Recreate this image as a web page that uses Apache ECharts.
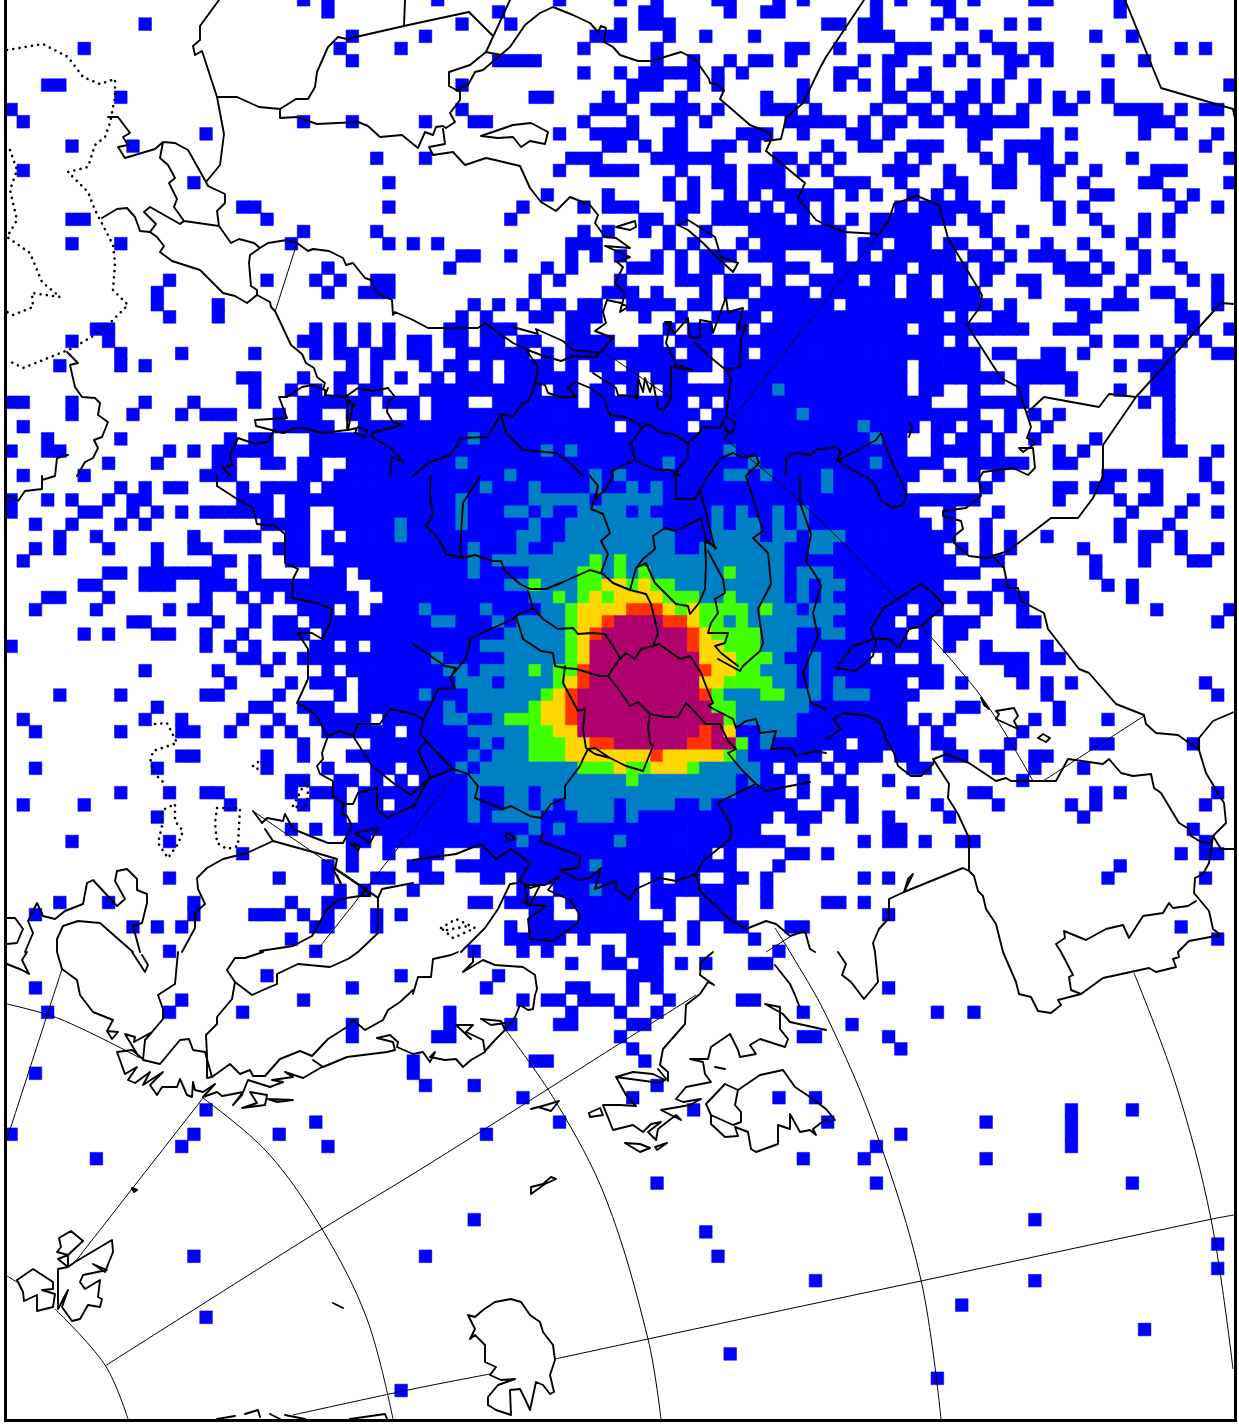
<!DOCTYPE html>
<html><head><meta charset="utf-8">
<style>html,body{margin:0;padding:0;background:#fff}#c{width:1239px;height:1427px}</style>
<script src="https://cdn.jsdelivr.net/npm/echarts@6/dist/echarts.min.js"></script>
</head><body><div id="c"></div>
<script>
// Occupied cells per row (first row is the one clipped by the top of the picture), as column runs.
const level1 = [
"24 26 35 45 50 53 58-59 63 65 71 73 76-77 79 84-85 91",
"26 40 52-53 59 62-63 71 77 91",
"11 37 41 50 52-54 67-68 70-71 76 78 82 84",
"28 34 48-50 54 57 61 70-72 80 89 92",
"6 27 32 47 53 64-65 68 73-75 78 81-82 84-85 96 98",
"28 40-43 53 56 59 61-62 64 70 72-73 77 79 82-83 85 90 93",
"47 50 52-56 58 60 68-69 72 75 82",
"3-4 37 51-53 56 58 65 68 70 72 74-75 79 81 84 90 100",
"9 43-44 49 51 55 62 65 72-73 76 78-79 81 84 86 88 90",
"0 37 48-50 53-56 58 62-64 66 71 74-75 77-78 80 83 86-87 91-94 96 98-99",
"1 24 28 34 38-39 47 51 55 57 64-68 70 72-73 75-76 78-83 93-95",
"16 45 48-51 54-55 60-62 65 69-70 72 79-80 85 87 93 96 99",
"5 10 49-50 52 54-55 58-59 61 67 70-71 74-76 79 82-85 98",
"30 34 46-48 53-58 63-64 66 68 73 75 80 82 84-85 87 92 100",
"1 45 48-51 55 58-59 61-63 65 67 72-74 77 81-82 85-86 89 94-96",
"15 31 54 56 58-59 61-63 68-70 73 77-78 81-82 85 88 93-94 100",
"44 49 54 56 59 61 63-67 69 71 74 76 78 85 89-90 95 97",
"19-20 31 42 47 49-51 55-56 58-60 62 64-65 67 73 75-79 81 86 88 96 99",
"5-6 21 41 52-53 55 58-63 65 67 69 71-77 79-80 86 89 93 95",
"24 30 47 49 52 54 57 61-68 71-75 80 83 90 93 95",
"5 9 23 31 33 35 46-48 54 56 60 62-68 70-71 73-75 77-78 81 85 88 92",
"37-38 41 46 48 50 53 55 57-59 61-63 67-68 70 72-77 79-80 82 84-86 89 93 95",
"26 36 44 46 51-53 55 57-58 63-65 68-73 75-78 80-81 86-88 90 93 96",
"13 21 25 27 30-31 43 45 50 55-57 59-61 63 66-69 71-72 74-75 77-78 80 83-84 87-89 92 97 99",
"12 26 29-31 43 49-51 53 57 59-60 62-65 67-72 74-75 77-79 84 91 94-95 99",
"12 17 38 40 42 44-45 47-48 51-54 56-57 61-67 69-80 82 87-88 90-92 96 99",
"13 17 37 39 43-44 46-48 52 55 58-61 63-76 78 81-82 88-89 96-97",
"7-8 25 27 29 31 36-37 39-41 46-47 54 56-57 60 62-73 75-83 86-88 97 100",
"5 8 24-25 27 29 31 33-34 36-37 39-40 42-43 46-49 52-53 55-76 78 89 91-92 94 96 98",
"9 14 20 25 27-28 30-31 33-34 37-42 44 46-54 56-57 59-60 62-79 81-82 85-86 88 95 99-100",
"4 9 11 28 30 34 36-37 39 41-44 46 48-49 51-57 59-73 75-79 83-86 91 93-95",
"19-20 24 27-28 30 32 35 37-39 41-46 49-51 53-55 59-73 75-81 83-87 94-95",
"20 23 25 27 29-30 34-43 45-46 48-49 51 54-73 75-76 79 83 87 91 94-95",
"0-1 5 11 15 20 24-29 31-33 35-37 40-46 48-55 57 59-75 79-83 93 95",
"5 10 14 16-18 22 24-25 28-29 33 35-56 58-79 82 84 86 95",
"1 22-26 29-49 51-55 57-74 76-77 79-80 82 85 95",
"3 9 18 20-21 25-73 76 78-79 81 84 89 95",
"0 3-4 13 15 17-21 25-73 76-79 81 86 88 95-96 99",
"8 12 17-18 21-22 24-25 28-76 79-83 86-87 98",
"1 6 16-18 24-25 27-74 77 79 81 90-91 93-94 98",
"9 11 13-14 19 21-24 26-73 80 86-87 89-90 94 99",
"0 3 5 8 10-11 19-21 23-79 86 91 93-94 97",
"0 6-7 10 12 14 16-21 23-24 27-74 77 81 92 96 99",
"2 5 9 11 21-24 27-75 77 80 91 95",
"4 7 15 18-20 23-24 26 28-77 80 82 85 91 93-94 96",
"2 4 8 12 15-16 22-24 26-76 78 80 82 88 93 96 99",
"1 12 17-18 20 23-24 27-77 80-81 89 93 97-98",
"8-9 11-17 20 25-27 29-79 89",
"6-7 11-13 16-18 20-27 30-76 81-82 90 92",
"3-4 8 16 19 21 23-28 31-77 79-80 82-83 92",
"2 7 13 15-16 20 24-26 28 30-73 75-76 80 83 94 100",
"10-11 17 20 22-23 25-72 74-75 77-79 83-84 99",
"6 8 12-13 16 19 22-24 26-73 75 77-78",
"0 16 18 20 25-26 28 30-75 77 80 85",
"19-20 22 24-70 72 75 80-83 85-86",
"11 17 21 26 28-76 82-83",
"18 23 25-27 29-73 75-76 78 83 85 87 98",
"4 9 16-17 22 27 29-74 85 99",
"12 20-21 24-26 29-73 78-79 86",
"1 11 14 19 22 25-29 31-73 75 77 84 86 90",
"2 9 14-15 18 21 23 26-31 33-74 76 83",
"24 30-68 70-74 76-77 82 89-90 97",
"14-15 21 24 28-66 68-71 73-74 77-78 80-81 84-85",
"2 12 21 26 30-31 33-62 64 67 69 74-75 81 84 88",
"23-24 27-28 30 32 34-63 65 68 72 83",
"9 13 16-17 23 25-27 29-63 65 67-69 74 79-80 89 91 99",
"1 6 18 24 27 29-30 32-64 67 69 76 81 87 89 98",
"12 27 29-62 64-66 69 72 77 88",
"23 25 27-61 65 72-73 97",
"5 13 28-29 31-63 70 72-73 75 78-79 98",
"19 28 31 34-35 39-57 59 64-65 67 96 98-99",
"26 28 33-34 37-59 63 91",
"13 22 26 30-31 34-35 39-40 42-51 53 55-56 59-60 62 70 72 90 98",
"27 29 33 42 45-51 53-59 62",
"4 8 15 23 26-27 38-39 41-44 46-51 53-54 57-59 62 67-68 70",
"2 15 20-22 24 26 30 32 43-44 47-51 54 57-59 72",
"10 12 14 25-26 30 41 43-53 56 59-60 64-65 96",
"23 41-45 47 51-54 56 61 99",
"13 25 38 42 44 49 51-53 63",
"46 49-50 52-53 55 57 61-62",
"21 32 40 51-53",
"2 28 39 46-47 51 53 72",
"14 24 42 44-45 47-49 51 54 60-61",
"3 13 19 36 46 50 53 65 76 79",
"28 36 41 45-46 51-52 69",
"28 35-36 50 65-66 72",
"51 73",
"33 43-44 52",
"2 33",
"34 38 53",
"42 51 63 66",
"16 56 87 92",
"25 45 67 80 87",
"0 15 22 39 73 87",
"14 26 71 87",
"7 65 70 80",
"",
"53 71 92",
"","",
"38 84",
"57",
"99",
"15 34 58",
"99",
"66 84",
"",
"78",
"16",
"93",
"",
"59",
"",
"76",
"32",
"",""
];
// Higher classes: row number (0 = clipped top row) followed by its column runs.
const level2 = {32:"63",34:"65",35:"70",36:"38 71",37:"44 46 59",38:"37 54 61 71",39:"41 48 50 59-60 62 67",40:"39 43 48 51 53 67",41:"37 43-47 49-53",
42:"37 41-42 44 47-50 52 58 60 63 65",43:"32 37 43 46-53 58 60-61 63 65",44:"32 42-43 46-54 58-61 63-64 66-68",45:"38 42 45-54 57-63 66-67",
46:"38 40-47 49 51-63",47:"38 43-46 49 51 53-58 60-63 65-67",48:"41-42 44-46 55-63 65 67-68",49:"43-44 46 57-58 60-63 65 67",50:"34 39 44-45 61 63-64 66-68",
51:"35-36 40 42-45 59 61-67",52:"41-45 62-64 67-68",53:"39-45 62-64",54:"35 41-45 63 66",55:"36-37 39-42 44 62-64 66",56:"37-39 41-44 63-64 66 68",
57:"34 38-43 59-61 64-66 68-70",58:"36 38-42 60-65",59:"36-37 40 60-64",60:"38-42 62-64",61:"39 41-42 62",62:"38 40-42 60",63:"37 39-46 57-61",
64:"38-50 52-59 61",65:"38 41-42 44-59",66:"38 41-42 44 46-49 51-54 57",67:"38 40-43 47-49 51",68:"43 45",69:"42 50",71:"48",73:"48"};
const level3 = {46:"48 50",47:"47-48 50 52 59",48:"43 47-48 51 53-54",49:"45 47 49 54-56 59",50:"46 55 57-60 62",51:"46 57-58 60",52:"46 58-61",53:"46 59-61",
54:"46 60-62",55:"43 45-46 60-61",56:"45 59-62",57:"44 58 62-63",58:"43 58-59",59:"41-43 59",60:"43-44",61:"43-45 60",62:"43-45 59",63:"47-49 51-52 56",64:"51"};
const level4 = {48:"49-50 52",49:"48 50-53",50:"47-50 54 56",51:"47-48 56",52:"47 57",53:"47 57-58",54:"47 57-59",55:"58-59",56:"46 57-58",57:"45",58:"44-45",59:"44-45",
60:"45-46 59",61:"46-47",62:"46-52 54-58",63:"50 53-55"};
const level5 = {50:"51-53",51:"49 54-55",52:"48 56",53:"56",55:"47 57",56:"47",57:"46 57",58:"46",59:"46",60:"57",61:"48-49 56-57",62:"53"};
const level6 = {51:"50-53",52:"49-55",53:"48-55",54:"48-56",55:"48-56",56:"48-56",57:"47-56",58:"47-57",59:"47-58",60:"47-56 58",61:"50-55 58-59"};
const classColors = ["#0000ff","#0080c4","#40ff00","#ffd700","#ff3300","#b00070"];
const columns = Array.from({length:101},(_,i)=>String(i));
const rowNames = Array.from({length:117},(_,i)=>String(i));

// Basemap outlines in picture units.
const coast = [
[219,0,200,26,200,40,193,46,195,55,202,51,217,97,224,134,220,165,206,182,208,186,225,194,225,203,217,211,219,226,231,243,239,239,254,243,260,248,250,255,249,263,251,286,257,290,257,295,270,302,271,307,275,311,291,345,302,354,306,363,314,368,317,377,325,383,323,389],
[260,248,268,243,287,240,297,243,308,251,313,249,329,251,343,258,346,265,353,263,365,278,371,280,377,293,392,300,393,315,395,312,413,320,428,328,478,328,485,323,513,343,528,350,541,355,561,361,573,356,596,357,613,338],
[217,97,237,97,259,107,280,109,296,99,308,99,315,87,317,72,328,47,338,37,347,39,404,26,413,24,469,12,493,36],
[405,0,404,26],
[280,109,280,118,297,117,317,124,358,122,368,126,380,137,402,135,413,144,418,148,425,132,433,135,436,127,443,126,446,128,455,122,450,113,460,100,460,88,468,85],
[510,0,486,52,470,65,449,72,449,86,458,91,461,87,468,85,475,72,483,70,510,47,525,25,540,13,553,7,573,15,590,23,598,32,601,26,606,28,604,42,613,47,620,55,638,61,651,61,681,52,695,59,709,79,710,83,718,85,724,90,720,99,750,125,770,133,771,140,766,151,805,183,798,198,816,220,826,225,844,232,879,234,889,220,894,204,917,196,939,205,948,238,982,295,980,307,967,325,1001,378,1018,387,1031,427,1027,438,1036,443,1023,452,1019,448,1033,448,1035,468,1028,475,1013,468,983,472,979,479,981,496,966,508,943,511,943,516,961,521,963,529,954,536,954,543,969,556,986,558,993,556,1004,568,1008,588,1018,588,1021,601,1044,613,1048,629,1079,669,1089,673,1116,704,1144,715,1146,724,1156,733,1178,735,1199,750,1206,773,1224,803,1226,823,1213,836,1221,849,1234,849],
[486,52,501,55],
[765,141,781,139,786,118,803,103,820,68,826,57,864,0],
[1125,0,1161,88,1233,109,1236,124],
[1028,412,1044,397,1099,407,1109,394,1136,397,1221,303,1234,304],
[1136,397,1103,445,1103,476,1093,498,1078,518,1051,518,1008,551,986,558],
[1199,750,1199,738,1213,721,1234,712],
[1213,836,1209,863,1203,874,1195,878,1194,893,1199,899,1209,911,1213,929,1221,935,1189,941,1178,952,1179,957,1173,959,1176,967,1156,972,1149,968,1103,978,1081,994,1058,1000,1061,1005,1051,1013,1038,1011,1031,997,1019,994,1016,982,1003,952,996,924,986,909,983,896,978,891,974,876,969,871,963,868,904,892,908,879,913,874,904,892,889,899,889,918,879,929,873,943,875,952,878,982,864,999,851,982,842,975,846,964,838,952],
[1196,901,1188,906,1173,908,1169,903,1163,913,1143,916,1129,938,1123,925,1106,929,1086,940,1064,931,1065,938,1056,944,1061,952,1073,975,1069,977,1071,990,1081,994],
[933,759,949,784,948,798,958,814,969,838,969,871],
[826,739,841,729,833,719,843,713,869,716,881,724,886,739,894,753,898,766,911,776,921,776,933,764,934,759,946,754,969,763,996,781,1006,778,1011,781,1056,781,1068,759,1103,764,1109,759,1121,773,1133,776,1151,774,1154,788,1161,793,1179,823,1189,829,1191,836,1201,842,1212,843,1211,853],
[871,629,884,608,921,584,933,593,943,604,941,609,921,626,909,629,899,648,889,639,874,639,871,629],
[874,639,853,646,836,668,856,671,873,656,876,640],
[981,698,989,709,984,705,981,698],
[996,711,1014,708,1018,716,1014,721,1018,729,996,719,999,714,996,711],
[1038,738,1043,734,1050,738,1046,742,1038,738],
[909,423,912,428,909,437],
[866,476,876,486,881,501,893,508,904,504,906,494,899,476],
// middle
[513,327,538,334,536,329,563,341,573,350,600,353,613,338,595,331,606,323,603,312,607,300,621,303,628,307,620,312,625,293,615,283,623,267,617,262,630,257,605,246,630,248,616,238,605,237,595,223,598,215,590,205,570,197,556,211,541,202,530,188,520,166,495,160,486,158,465,165,453,152,433,155,429,147,445,144,443,129],
[481,136,513,125,531,123,548,132,545,144,530,141,521,147,513,137,498,138,481,136],
[616,227,635,221,636,227,630,230,616,227],
[678,225,688,220,715,237,721,257,738,263,733,272,720,260,703,243,688,230,678,225],
[536,383,545,385,548,393,561,397,576,397,568,388,576,382,590,388,603,397,610,415,626,417,643,427,648,424,660,432,675,435,688,443,699,433,703,427,720,428,723,421,728,433,725,439],
[536,383,528,402,523,403,513,417,501,414,488,437,461,438,451,455,430,462,413,476],
[501,414,506,433,523,450,556,453,570,463,583,476],
[526,350,538,367,535,383],
[593,373,616,388,618,395,635,396,637,400,638,378,643,392,645,378,650,392,653,382,658,408,663,411,671,398,671,367,693,370,680,366,676,365,666,343,671,322,665,322,675,333,688,318,690,337,700,338,700,320,711,322,713,333,726,297,728,312,743,308,738,330,746,325,741,340,740,367,726,370,710,357,695,343],
[726,370,731,378,726,417,735,422,733,433,725,430],
[688,443,688,457,673,476],
[631,443,635,460,610,472,613,476],
[635,460,656,470,670,470,680,476],
[643,427,631,443],
[708,476,721,458,733,453,743,458,756,455,759,463,746,476],
[786,476,786,458,795,453,811,455,816,450,836,447,841,452,837,460,848,467,863,476],
[836,462,876,440,881,433,889,455,898,476],
// centre
[431,476,430,496,433,514,426,526,438,538,446,554,463,558,475,555,493,561,501,561,505,571,520,584,530,589,546,589,563,582,590,570,603,574,613,583,630,590,646,594,651,604,658,633],
[480,476,463,503,460,549,463,558],
[590,476,598,486,595,499,591,509,603,514,610,533,601,541,608,554,601,573],
[613,476,606,489,595,499],
[630,590,636,568,646,563,655,583,666,594,676,604,688,606,690,614,699,603,705,589,706,563,705,541,716,548,706,539,701,518,686,526,675,531,665,528,653,536,655,549,643,559,636,568],
[708,551,723,579,725,593,715,599,718,613,711,623,708,633,728,633,725,643,715,646,721,653,738,666],
[700,489,715,549],
[746,476,763,531,753,538,768,553,771,584,758,609,763,643,760,651,743,666,740,671,718,659],
[676,476,676,499,695,499,700,489,708,476],
[800,476,800,503,811,534,806,561,816,576,821,586,813,613,818,636,803,673,811,703,826,709],
[528,591,533,608,516,616,523,639,541,651,553,653,555,666,565,668,576,669,600,676,608,676,620,658,613,646,605,634,591,633,578,634,573,628,558,629,543,619,533,608],
[608,676,620,691,630,706,638,702,650,714,666,717,678,717,686,703,691,708,706,724,720,724,728,741],
[620,659,626,653,635,659,641,649,653,646,659,644,680,659,690,656,701,673,706,686,713,703,708,706,733,719,736,728,746,721,756,719,760,733,776,731,771,749,791,748,796,756,815,751,826,753],
[658,633,653,646],
[650,714,648,726,650,743,653,746,643,771,626,766,610,758,595,748,588,749,583,759,580,766,565,786,565,798,551,804,541,818,530,816,511,806,503,809,475,798,478,786,468,774,453,769,426,741,420,733,425,716,438,689,455,688,450,678,466,658,471,638,513,619,517,616],
[413,644,445,666,456,668,450,678],
[565,666,563,683,570,696,578,711,585,709,583,729,586,748,595,754,610,758],
[413,714,423,719],
[426,741,418,751,430,776,413,808],
[413,793,430,778,453,769],
[728,741,736,749,728,753,741,769,756,784,766,791,780,788,810,782],
[756,784,725,799,718,803,731,826,730,839,713,853,703,861,696,874,700,891,728,918,746,929,766,921,776,924,790,936,805,931,810,949,815,952],
[456,854,481,844,496,859,511,849,530,863,518,883,510,884,498,909,485,928,461,952],
[413,860,456,854],
[543,833,540,841,553,846,580,856,578,868,560,870,578,880,590,878,601,868,595,889,616,881,616,889,630,899,636,889,660,878,676,881,696,874],
[578,923,553,941,530,939,528,919,546,906,528,905,525,885,545,885,560,875,548,890,570,900,580,915,578,923],
[509,833,515,839,508,841,505,835,509,833],
[521,882,530,888,540,885,530,905,520,900],
// west
[42,476,42,489,25,491,18,501,7,496],
[67,352,78,363,70,365,75,387,82,397,95,398,100,403,98,415,108,422,102,437,94,440,98,448,93,458,85,462,77,476],
[68,455,57,458,55,476,42,480],
[287,397,279,397,287,418,255,420,256,426,283,433,295,428,303,428,322,433,347,430,348,400,355,405],
[287,397,293,393,302,387,312,385,325,390,325,395,345,397,358,388,373,391,388,388,395,397,388,402,387,412,393,422,402,425,372,433,372,437,382,443,390,447,403,462,392,457,390,476],
[328,388,325,395],
[345,398,353,405,348,430,357,428,355,433,365,437,367,430,358,427],
[273,432,268,442,255,444,238,438,230,455,232,465,222,467,230,476],
[108,117,118,117,130,133,123,137,128,145,118,147,125,158,155,149,163,142,175,143,188,150,206,182],
[163,142,160,158,168,165,175,178,169,183,177,199,174,207,184,221,219,226],
[184,221,180,224,150,207,144,212,156,224,150,232,140,231,135,217,127,208,117,209,102,218],
[150,232,157,237,164,246,160,252,172,261,200,270,223,293,235,296,247,303,257,295],
[217,476,217,486,237,499,253,508,257,524,275,526,285,534,285,563,298,569,293,579,292,598,320,604,332,609,330,623,322,639,312,633,298,633,308,649,308,679,297,703,315,714,328,736,340,731,353,736,358,724,380,724,390,709,413,714],
[353,736,372,766,397,786,413,796],
[328,736,322,753,323,759,317,766,320,774,333,781,333,796,343,804,353,804,358,793,377,788,377,809,387,818,413,806],
[343,804,342,814,347,816,352,826,343,843,328,843,315,838,293,829,285,814,283,821,267,818,262,823,253,811],
[273,841,320,854,337,859,335,869,378,898,378,933,358,952],
[273,841,265,829],
[273,841,247,853,223,859,207,868,197,878,198,889,205,904,195,913,195,928,182,952],
[7,918,15,918,23,929,17,943,7,944],
[28,921,37,903,43,916,55,919,65,911,83,904,87,883,93,880,117,906,125,899,115,881,117,871,127,869,137,879,137,890,147,894,147,903,142,923,133,926,140,952],
[28,921,33,933,25,952],
[133,952,100,923,78,921,63,926,57,939,57,952,62,969,77,980,80,995,93,1012,113,1020,107,1031,112,1039,118,1032,107,1031],
[125,1034,135,1037,134,1042,152,1032,163,1019,163,1009,158,995,175,984,178,952],
[132,952,145,972,148,965,142,955],
[7,964,22,970,29,974,22,960,27,952],
[139,1057,125,1034],
[145,1040,143,1060,160,1064,180,1040,189,1039,193,1050,205,1052,212,1077,207,1078,207,1055,206,1035,217,1024,217,1017,232,999,235,982,252,995,263,990,277,984,277,974,298,964,330,967,348,959,358,952],
[145,1040,152,1032],
[227,970,235,958,245,958,263,952],
[227,970,235,982],
[212,1077,230,1064,240,1074,250,1070,253,1076,265,1076,280,1059,300,1051,312,1056,328,1039,347,1027,353,1020,365,1030,383,1020,388,1010,400,1002,413,990],
[413,994,418,977,431,977,433,959,451,955,458,952],
[473,952,473,962,463,972,483,960,495,965,523,967,535,975,537,989,535,995,533,1009,528,1010,520,1005,515,1017,505,1030,501,1021,481,1019],
[313,1060,323,1067,347,1057,387,1052,395,1050,393,1042,377,1038,390,1035,398,1042,397,1047,413,1054,423,1052,430,1062,435,1052,430,1057,445,1060,456,1059,463,1067,471,1060,485,1052,486,1050,483,1040,466,1032,473,1025,456,1025,471,1039],
[505,1030,495,1040,486,1050],
[481,1019,491,1025,505,1023],
// fjords
[117,1052,125,1074,137,1067,128,1080,135,1083,150,1072,143,1085,163,1072,150,1085,157,1095,162,1087,177,1087,180,1079,187,1095,192,1097,193,1082,195,1090,203,1092,215,1084,203,1097,217,1092,222,1096,228,1095,233,1094,243,1092,233,1105,242,1095,248,1080,270,1087,283,1082,272,1080,293,1077,285,1072,303,1078,322,1067],
[117,1052,132,1050,144,1060],
[268,1099,293,1100,277,1102,268,1099],
[250,1092,267,1095,265,1105,242,1108,257,1103,250,1092],
[58,1309,58,1269,68,1267,75,1262,112,1240,113,1252,105,1272,93,1264,107,1270,83,1275,80,1282,85,1289,100,1280,98,1297,102,1299,100,1307,88,1305,80,1319,72,1321,62,1307,68,1290,58,1309],
[17,1280,33,1269,53,1282,53,1289,42,1290,55,1294,53,1307,37,1311,37,1295,24,1301,23,1292,17,1280],
[68,1255,58,1259,68,1267,68,1255,83,1241,71,1231,59,1238,61,1247,57,1252,68,1255],
[132,1188,137,1190,134,1192,132,1188],
[333,1303,343,1308],
// islands south
[531,1109,538,1107,551,1111,559,1101,546,1105,531,1109],
[531,1187,531,1194,545,1184,556,1179,551,1177,543,1184,531,1187],
[589,1113,600,1108,603,1115,590,1117,589,1113],
[616,1077,633,1072,653,1074,665,1080,660,1083,616,1077,626,1095,636,1106,620,1105,603,1105,613,1130,633,1125,643,1132,651,1124,661,1122,648,1132,656,1140,658,1129,676,1115,681,1120,661,1110,690,1105,701,1099,683,1102,676,1099,686,1087,711,1082,705,1074,703,1062,690,1059,708,1059,711,1047,730,1034,738,1050,740,1057,756,1054,750,1045,760,1039,785,1047,788,1039,780,1029,780,1007,765,1004,783,1014,790,1022,826,1030],
[625,1143,640,1144,650,1148,640,1152,625,1143],
[655,1147,667,1143,657,1150,655,1147],
[715,1067,725,1069,723,1070,715,1067],
[706,1104,725,1084,738,1090,735,1105,741,1112,741,1122,733,1125,711,1115,711,1124,725,1137,738,1136,735,1127,748,1132,751,1149,756,1152,778,1144,778,1125,790,1129,790,1114,800,1132,810,1130,816,1135,813,1129,826,1119,830,1122],
[706,1104,711,1115],
[738,1090,760,1075,783,1070,795,1087,810,1097,826,1109,835,1120],
[700,994,686,1005,685,1024,663,1049,660,1065,668,1072,668,1081,658,1069],
[700,994,708,982,714,985,700,975,701,962,713,952],
[775,965,790,984,795,995,800,1008],
[468,1315,475,1329,470,1339,475,1335,485,1345,485,1350,485,1362,496,1367,490,1375,501,1380,515,1379,498,1385,488,1397,488,1405,496,1410,511,1415,510,1390,520,1389,525,1399,530,1410,536,1382,543,1385,550,1394,554,1392,550,1375,555,1360,553,1345,543,1332,540,1322,530,1315,521,1302,511,1299,495,1302,483,1310,475,1317,468,1315],
[217,1419,235,1416],[245,1414,258,1410,260,1417],[270,1414,280,1419],[285,1415,305,1419],[350,1419,385,1414,387,1419],
[333,869,342,886,337,875],
[355,833,378,828,370,843,355,833],
[350,843,360,846,358,851,350,843],
[360,896,367,889,370,896,360,896],
[260,951,293,946,312,936,327,909,340,899,360,896],
[413,883,382,889,378,898]
];
const graticule = [
[1134,973,1176,1085,1211,1219,1233,1369],
[775,928,790,952,826,1015,876,1132,921,1280,941,1419],
[505,1029,556,1102,606,1199,648,1339,661,1419],
[7,1004,60,1019,138,1057],
[203,1098,267,1152,322,1229,367,1319,393,1419],
[7,1276,17,1282],
[55,1309,105,1365,128,1419],
[7,1139,62,969],
[203,1098,75,1262],
[105,1366,322,1229,413,1174,548,1089,696,995],
[293,1415,413,1389,490,1374],
[555,1359,648,1339,826,1301,921,1281,1212,1219,1234,1215],
[297,243,275,312],
[318,949,413,829,453,778],
[253,811,378,897],
[733,418,826,300,879,234],
[601,350,671,398],
[725,439,771,476,826,526,898,600],
[921,626,983,699,1033,781],
[1043,781,1144,716],
[796,933,766,952]
];
const islandsDotted = [
[7,50,43,44,68,57,83,77,100,84,115,79,115,97,110,123,105,137,95,145,88,167,68,172,88,192,95,210,113,245,115,263,113,290,128,305,103,330,73,348,23,368,7,360],
[10,150,17,170,10,190,17,220,7,237,30,253,42,282,60,297,32,293,33,307,13,315,7,312],
[155,724,167,723,177,743,153,751,150,763,157,776,163,782],
[165,809,175,804,175,821,183,831,178,844,168,858,158,843,162,826,162,811],
[217,808,240,808,238,846,227,849,217,843,215,823,217,808],
[253,766,258,762,263,766,257,769],
[293,806,307,779,308,796,305,809,293,806],
[441,928,456,919,475,928,453,938,441,928],
[447,930,468,926]
];

function runs(str){const o=[];str.split(" ").filter(Boolean).forEach(t=>{const p=t.split("-").map(Number);for(let c=p[0];c<=(p.length>1?p[1]:p[0]);c++)o.push(c);});return o;}
const cellGrid = level1.map(s=>{const m=new Map();runs(s).forEach(c=>m.set(c,1));return m;});
[level2,level3,level4,level5,level6].forEach((lv,i)=>{Object.keys(lv).forEach(r=>{runs(lv[r]).forEach(c=>cellGrid[+r].set(c,i+2));});});
const heatData=[];cellGrid.forEach((m,r)=>m.forEach((v,c)=>{if(c<columns.length)heatData.push({value:[c,r,v],itemStyle:{borderColor:classColors[v-1],borderWidth:0.5}});}));
function toLine(list){const out=[];list.forEach(f=>{for(let i=0;i<f.length;i+=2)out.push([f[i],f[i+1]]);out.push(['-','-']);});return out;}

const lineBase={type:'line',xAxisIndex:1,yAxisIndex:1,showSymbol:false,symbol:'none',silent:true,clip:true,connectNulls:false,animation:false,z:5};
const chart=echarts.init(document.getElementById('c'),null,{renderer:'canvas',width:1239,height:1427});
chart.setOption({
 animation:false,backgroundColor:'#ffffff',
 grid:{left:5,top:-6.4,width:1231,height:1427.4,containLabel:false,outerBoundsMode:'none'},
 xAxis:[{type:'category',data:columns,show:false},{type:'value',min:5,max:1236,show:false,splitLine:{show:false}}],
 yAxis:[{type:'category',data:rowNames,inverse:true,show:false},{type:'value',min:-6.4,max:1421,inverse:true,show:false,splitLine:{show:false}}],
 visualMap:{show:false,type:'piecewise',seriesIndex:0,dimension:2,pieces:classColors.map((c,i)=>({value:i+1,color:c}))},
 series:[
  {type:'heatmap',data:heatData,xAxisIndex:0,yAxisIndex:0,silent:true,progressive:0,emphasis:{disabled:true}},
  Object.assign({},lineBase,{data:toLine(graticule),smooth:0.35,lineStyle:{color:'#000',width:1}}),
  Object.assign({},lineBase,{data:toLine(coast),lineStyle:{color:'#000',width:1.9,join:'round',cap:'round'}}),
  Object.assign({},lineBase,{data:toLine(islandsDotted),lineStyle:{color:'#000',width:2.6,type:[0.1,6.2],cap:'round'}})
 ],
 graphic:[{type:'rect',z:100,silent:true,shape:{x:5.5,y:-10,width:1230,height:1430.5},style:{fill:'none',stroke:'#000',lineWidth:3}}]
});
</script></body></html>
